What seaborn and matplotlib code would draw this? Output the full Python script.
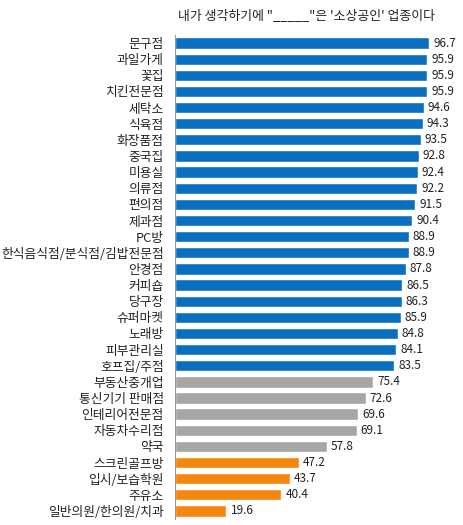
import matplotlib
matplotlib.use("Agg")
import matplotlib.pyplot as plt
import seaborn as sns
import pandas as pd

# 업종별 응답 비율 (%)
industries = [
    "문구점", "과일가게", "꽃집", "치킨전문점", "세탁소", "식육점", "화장품점",
    "중국집", "미용실", "의류점", "편의점", "제과점", "PC방",
    "한식음식점/분식점/김밥전문점", "안경점", "커피숍", "당구장", "슈퍼마켓",
    "노래방", "피부관리실", "호프집/주점", "부동산중개업", "통신기기 판매점",
    "인테리어전문점", "자동차수리점", "약국", "스크린골프방", "입시/보습학원",
    "주유소", "일반의원/한의원/치과",
]
values = [
    96.7, 95.9, 95.9, 95.9, 94.6, 94.3, 93.5, 92.8, 92.4, 92.2, 91.5, 90.4,
    88.9, 88.9, 87.8, 86.5, 86.3, 85.9, 84.8, 84.1, 83.5, 75.4, 72.6, 69.6,
    69.1, 57.8, 47.2, 43.7, 40.4, 19.6,
]
groups = ["high"] * 21 + ["mid"] * 5 + ["low"] * 4
colors = {"high": "#0B6FC0", "mid": "#A6A6A6", "low": "#F5870E"}

df = pd.DataFrame({"industry": industries, "value": values, "group": groups})

sns.set_style("white")
plt.rcParams["font.family"] = ["Noto Sans CJK KR", "DejaVu Sans"]

fig = plt.figure(figsize=(4.64, 5.25), dpi=100)
ax = fig.add_axes([0.377, 0.0114, 0.623, 0.922])

sns.barplot(data=df, x="value", y="industry", hue="group", palette=colors,
            orient="h", width=0.7, legend=False, ax=ax, saturation=1)

for c in ax.containers:
    ax.bar_label(c, fmt="%.1f", padding=3, fontsize=8.5, color="#222222")

ax.set_xlim(0, 110)
ax.set_xlabel("")
ax.set_ylabel("")
ax.set_xticks([])
ax.tick_params(axis="y", length=0, labelsize=9.2, pad=8, labelcolor="#222222")
for side in ["top", "right", "bottom"]:
    ax.spines[side].set_visible(False)
ax.spines["left"].set_color("#999999")
ax.spines["left"].set_linewidth(0.8)

fig.text(0.66, 0.97, "내가 생각하기에 \"_____\"은 '소상공인' 업종이다",
         ha="center", va="center", fontsize=9.3, color="#222222")

fig.savefig("out.png", dpi=100)
